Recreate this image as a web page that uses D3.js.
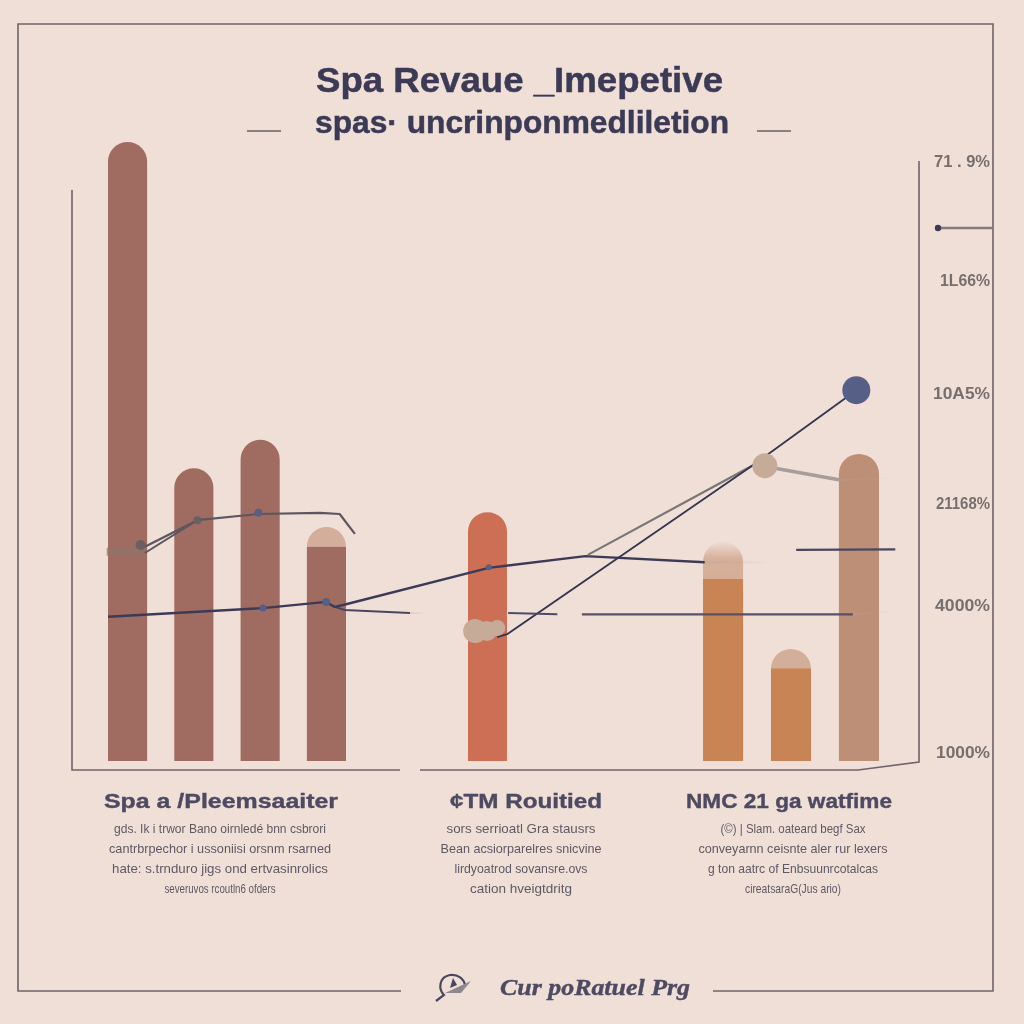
<!DOCTYPE html>
<html>
<head>
<meta charset="utf-8">
<script src="https://cdn.jsdelivr.net/npm/d3@7"></script>
<style>
  html, body { margin: 0; padding: 0; background: #efdfd6; }
  svg { display: block; }
  text { font-family: "Liberation Sans", Arial, sans-serif; }
</style>
</head>
<body>
<div id="chart"></div>
<script>
// bars, one array per group, heights in % of the tallest bar
var barsGroup1 = ["a", "b", "c", "d"];
var barsGroup2 = ["e"];
var barsGroup3 = ["f", "g", "h"];
var barTops = {a: 100, b: 47.3, c: 51.9, d: 37.8, e: 40.2, f: 35.4, g: 18.1, h: 49.6};
var barSolid = {a: 100, b: 47.3, c: 51.9, d: 34.6, e: 40.2, f: 29.4, g: 15.0, h: 49.6};
var barColors = {a: "#a06c62", b: "#a06c62", c: "#a06c62", d: "#a06c62", e: "#cc6f55", f: "#c98455", g: "#c98455", h: "#bd8f77"};

// line series, [x, y] in chart units
var lineMain = [[4.25, 23.3], [22.55, 24.7], [30, 25.7], [31, 24.9], [32, 25.2], [49.2, 31.2], [60.6, 33.1], [74.7, 32.1]];
var lineMainTail = [[74.7, 32.1], [82.4, 32.1]];
var lineBranch = [[31, 24.9], [32.2, 24.4], [39.9, 23.9]];
var lineBranchTail = [[39.9, 23.9], [41.7, 23.9]];
var lineUpper = [[8.6, 34.6], [14.8, 38.9], [22, 39.9], [29.3, 40.1], [31.6, 39.9], [33.4, 36.7]];
var lineUpper2 = [[8.6, 33.6], [14.8, 38.9]];
var lineUpperStub = [[4.1, 33.8], [8.6, 33.8]];
var lineDiagonal = [[50.2, 20], [51.4, 20.5], [80.3, 47.7], [92.6, 59.9]];
var lineGrey = [[60.9, 33.3], [80.3, 47.7]];
var lineLight = [[83, 47.3], [90.7, 45.4]];
var lineLightTail = [[90.7, 45.4], [96.3, 45.7]];
var lineFlatA = [[51.5, 23.9], [57.3, 23.7]];
var lineFlatB = [[60.2, 23.7], [92.2, 23.7]];
var lineFlatBTail = [[92.2, 23.7], [96.6, 24.1]];
var lineFlatC = [[85.5, 34.1], [97.2, 34.2]];

var dotsNavy = [[92.6, 59.9, 14], [49.2, 31.3, 3], [22.55, 24.7, 3.5], [30, 25.7, 4], [22, 40.1, 4]];
var dotsGrey = [[8.1, 34.9, 5], [14.8, 38.9, 4]];
var dotsTan = [[81.8, 47.7, 12.5], [47.6, 21, 12], [49, 21, 10], [50.2, 21.5, 8]];

// right side labels
var rightTickValues = [96.9, 77.7, 59.5, 41.7, 25.2, 1.5];
var rightTickLabels = ["71 . 9%", "1L66%", "10A5%", "21168%", "4000%", "1000%"];
var rightTickWidths = [56, 50, 57, 54, 55, 54];

var titleLines = ["Spa Revaue _Imepetive", "spas· uncrinponmedliletion"];
var groupHeads = ["Spa a /Pleemsaaiter", "¢TM Rouitied", "NMC 21 ga watfime"];
var groupBody1 = ["gds. Ik i trwor Bano oirnledé bnn csbrori", "cantrbrpechor i ussoniisi orsnm rsarned", "hate: s.trnduro jigs ond ertvasinrolics", "severuvos rcoutln6 ofders"];
var groupBody2 = ["sors serrioatl  Gra stausrs", "Bean acsiorparelres snicvine", "lirdyoatrod sovansre.ovs", "cation hveigtdritg"];
var groupBody3 = ["(©) | Slam. oateard begf Sax", "conveyarnn ceisnte aler rur lexers", "g ton aatrc of Enbsuunrcotalcas", "cireatsaraG(Jus ario)"];
var footerLabel = "Cur poRatuel Prg";

var width = 1024, height = 1024;
var navy = "#3b3a57", frame = "#6f6468";

var svg = d3.select("#chart").append("svg")
  .attr("width", width)
  .attr("height", height);

svg.append("rect").attr("width", width).attr("height", height).attr("fill", "#efdfd6");

var defs = svg.append("defs");
defs.append("filter").attr("id", "soft").append("feGaussianBlur").attr("stdDeviation", 0.45);

// gradients for the lines that fade out
function fade(id, color) {
  var g = defs.append("linearGradient").attr("id", id).attr("gradientUnits", "userSpaceOnUse");
  g.append("stop").attr("offset", "0").attr("stop-color", color).attr("stop-opacity", 0.3);
  g.append("stop").attr("offset", "1").attr("stop-color", color).attr("stop-opacity", 0.02);
  return g;
}

var capFade = defs.append("linearGradient").attr("id", "capFade").attr("x1", 0).attr("x2", 0).attr("y1", 0).attr("y2", 1);
capFade.append("stop").attr("offset", "0").attr("stop-color", "#d5ae97").attr("stop-opacity", 0.05);
capFade.append("stop").attr("offset", "0.45").attr("stop-color", "#d5ae97").attr("stop-opacity", 0.95);
capFade.append("stop").attr("offset", "1").attr("stop-color", "#d5ae97");

// scales
var x = d3.scaleLinear().domain([0, 100]).range([72, 919]);
var y = d3.scaleLinear().domain([0, 100]).range([761, 142]);
var xBand = {};
[[barsGroup1, [108, 346]], [barsGroup2, [468, 507]], [barsGroup3, [703, 879]]].forEach(function(g) {
  var band = d3.scaleBand().domain(g[0]).range(g[1]).paddingInner(g[0].length > 1 ? 0.41 : 0);
  g[0].forEach(function(k) { xBand[k] = band; });
});

// outer frame
svg.append("path").attr("d", "M401,991H18V24H993V991H713").attr("fill", "none").attr("stroke", frame).attr("stroke-width", 1.6);

// axes lines
svg.append("path").attr("d", "M72,190V770H400").attr("fill", "none").attr("stroke", frame).attr("stroke-width", 1.6);
svg.append("path").attr("d", "M420,770H858L919,762V161").attr("fill", "none").attr("stroke", frame).attr("stroke-width", 1.6);

// bars with the domed top
function dome(k, value, r) {
  var b = xBand[k], x0 = b(k), w = b.bandwidth(), top = y(value);
  r = Math.min(r, w / 2);
  return "M" + x0 + "," + y(0) + "V" + (top + r) + "A" + r + "," + r + " 0 0 1 " + (x0 + r) + "," + top +
    "H" + (x0 + w - r) + "A" + r + "," + r + " 0 0 1 " + (x0 + w) + "," + (top + r) + "V" + y(0) + "Z";
}

var allBars = barsGroup1.concat(barsGroup2, barsGroup3);

svg.selectAll(".cap").data(allBars.filter(function(k) { return barTops[k] != barSolid[k]; })).enter()
  .append("path")
  .attr("class", "cap")
  .attr("d", function(k) {
    var b = xBand[k], x0 = b(k), w = b.bandwidth(), top = y(barTops[k]), bot = y(barSolid[k]), r = w / 2;
    return "M" + x0 + "," + bot + "V" + (top + r) + "A" + r + "," + r + " 0 0 1 " + (x0 + w) + "," + (top + r) + "V" + bot + "Z";
  })
  .attr("fill", function(k) { return k == "f" ? "url(#capFade)" : "#d3af9b"; });

svg.selectAll(".bar").data(allBars).enter()
  .append("path")
  .attr("class", "bar")
  .attr("d", function(k) {
    if (barTops[k] != barSolid[k]) {
      var b = xBand[k];
      return "M" + b(k) + "," + y(0) + "V" + y(barSolid[k]) + "H" + (b(k) + b.bandwidth()) + "V" + y(0) + "Z";
    }
    return dome(k, barTops[k], 20);
  })
  .attr("fill", function(k) { return barColors[k]; });

// lines
var line = d3.line().x(function(d) { return x(d[0]); }).y(function(d) { return y(d[1]); });
function drawLine(data, color, w, op) {
  svg.append("path").attr("d", line(data))
    .attr("fill", "none").attr("stroke", color).attr("stroke-width", w)
    .attr("stroke-linejoin", "round").attr("opacity", op || 1);
}
// a faded end of a line, the gradient runs along the segment
var fadeCount = 0;
function drawTail(data, color, w) {
  var id = "fade" + (fadeCount++);
  fade(id, color)
    .attr("x1", x(data[0][0])).attr("x2", x(data[1][0]))
    .attr("y1", y(data[0][1])).attr("y2", y(data[1][1]));
  drawLine(data, "url(#" + id + ")", w);
}
drawLine(lineUpperStub, "#8f7269", 8, 0.7);
drawLine(lineUpper, "#5d5660", 2.2);
drawLine(lineUpper2, "#5d5660", 2);
drawTail(lineMainTail, "#b9a294", 3);
drawTail(lineBranchTail, "#b9a294", 2);
drawLine(lineBranch, "#4a4660", 2);
drawLine(lineMain, navy, 2.4);
drawLine(lineGrey, "#7b7676", 2.2);
drawLine(lineDiagonal, "#35344f", 1.8);
drawLine(lineLight, "#a79d9b", 3.5);
drawTail(lineLightTail, "#b9a294", 2);
drawLine(lineFlatA, "#4f4a66", 2);
drawLine(lineFlatB, "#5a5068", 2.2);
drawTail(lineFlatBTail, "#b9a294", 2);
drawLine(lineFlatC, "#4a4660", 2.2);

// dots
function drawDots(data, color) {
  svg.selectAll(null).data(data).enter().append("circle")
    .attr("cx", function(d) { return x(d[0]); })
    .attr("cy", function(d) { return y(d[1]); })
    .attr("r", function(d) { return d[2]; })
    .attr("fill", color);
}
drawDots(dotsGrey, "#6a6062");
drawDots(dotsNavy, "#565f85");
drawDots(dotsTan, "#c6ab98");

// right labels
var rightAxis = d3.axisRight(y).tickValues(rightTickValues).tickSize(0)
  .tickFormat(function(d, i) { return rightTickLabels[i]; });
var rightG = svg.append("g").attr("transform", "translate(990,0)").call(rightAxis);
rightG.select(".domain").remove();
rightG.selectAll("text")
  .attr("x", 0).attr("text-anchor", "end")
  .attr("font-family", "Liberation Sans").attr("font-size", 17).attr("font-weight", 700)
  .attr("fill", "#776e6e").attr("filter", "url(#soft)")
  .attr("textLength", function(d, i) { return rightTickWidths[i]; })
  .attr("lengthAdjust", "spacingAndGlyphs");

// the marker on the right
svg.append("line").attr("x1", 938).attr("x2", 993).attr("y1", 228).attr("y2", 228).attr("stroke", "#857a7c").attr("stroke-width", 2.6);
svg.append("circle").attr("cx", 938).attr("cy", 228).attr("r", 3.2).attr("fill", navy);

// title
function fitText(str, cx, base, w, size, weight, color, style) {
  return svg.append("text")
    .attr("x", cx).attr("y", base).attr("text-anchor", "middle")
    .attr("font-size", size).attr("font-weight", weight).attr("font-style", style || "normal")
    .attr("fill", color).attr("textLength", w).attr("lengthAdjust", "spacingAndGlyphs")
    .attr("filter", "url(#soft)")
    .text(str);
}
fitText(titleLines[0], 519.5, 92, 407, 35, 700, navy).attr("stroke", navy).attr("stroke-width", 0.5);
fitText(titleLines[1], 522, 133, 414, 32, 700, navy).attr("stroke", navy).attr("stroke-width", 0.5);
[[247, 281], [757, 791]].forEach(function(d) {
  svg.append("line").attr("x1", d[0]).attr("x2", d[1]).attr("y1", 131).attr("y2", 131).attr("stroke", "#8b8080").attr("stroke-width", 2);
});

// text columns
var columns = [
  {head: groupHeads[0], cx: 221, hw: 234, body: groupBody1, w: [212, 222, 216, 111], bx: 220},
  {head: groupHeads[1], cx: 526, hw: 152, body: groupBody2, w: [149, 161, 133, 102], bx: 521},
  {head: groupHeads[2], cx: 789, hw: 206, body: groupBody3, w: [145, 189, 170, 96], bx: 793}
];
columns.forEach(function(c) {
  fitText(c.head, c.cx, 808, c.hw, 21, 700, "#4e4b62").attr("stroke", "#4e4b62").attr("stroke-width", 0.4);
  c.body.forEach(function(t, i) {
    fitText(t, c.bx, 833 + i * 20, c.w[i], 13, 400, "#5f5965");
  });
});

// footer logo and name
var logo = svg.append("g").attr("transform", "translate(453,987)").attr("fill", "none").attr("stroke", "#4a4660");
logo.append("path").attr("d", "M-17,14L-9,8C-15,2 -14,-10 -3,-12C5,-13 11,-8 12,-2").attr("stroke-width", 2.2);
logo.append("path").attr("d", "M-8,6L18,-6L8,6Z").attr("fill", "#8d8890").attr("stroke", "none");
logo.append("path").attr("d", "M-3,1L0,-9L4,-2Z").attr("fill", "#4a4660").attr("stroke", "none");

fitText(footerLabel, 595, 995, 190, 23, 700, "#4e4b62", "italic").style("font-family", "Liberation Serif").attr("stroke", "#4e4b62").attr("stroke-width", 0.4);
</script>
</body>
</html>
